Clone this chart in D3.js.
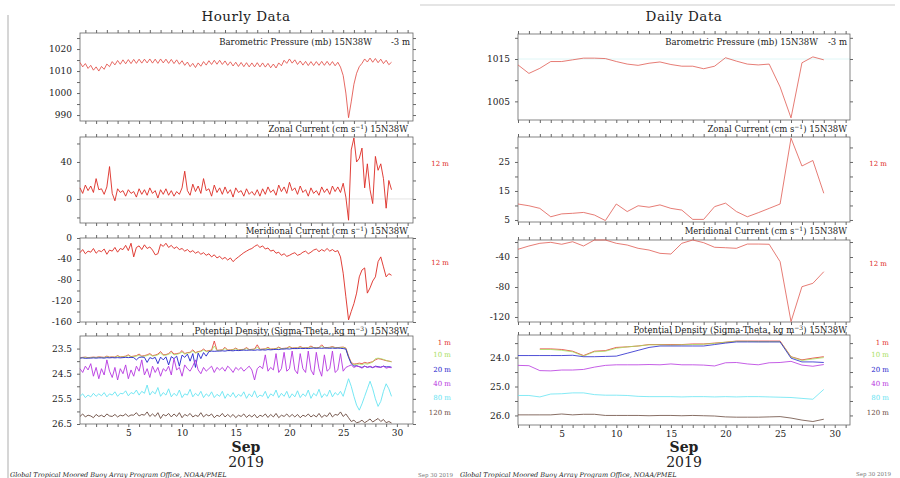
<!DOCTYPE html>
<html>
<head>
<meta charset="utf-8">
<script src="https://cdn.jsdelivr.net/npm/d3@7"></script>
<style>
body{margin:0;background:#fff;}
text{font-family:"DejaVu Serif",serif;fill:#222;}
.tick text{font-family:"DejaVu Serif",serif;font-size:9px;fill:#222;}
.tick line{stroke:#666;}
</style>
</head>
<body>
<script>
// hourly series, one value every 6 hours starting Sep 1 00:00
var hourStart = 1, hourStep = 0.25;

var hrPressure = [
 1013.9,1011.9,1013.4,1011.2, 1012.6,1010.4,1011.9,1010.0, 1012.1,1010.8,1013.2,1012.0,
 1014.3,1012.8,1014.8,1013.1, 1015.1,1013.3,1015.2,1013.4, 1015.3,1013.5,1015.4,1013.6,
 1015.4,1013.7,1015.5,1013.6, 1015.4,1013.5,1015.5,1013.7, 1015.4,1013.5,1015.3,1013.4,
 1015.1,1013.1,1014.7,1012.6, 1014.1,1012.0,1013.5,1011.6, 1013.7,1012.2,1014.3,1012.7,
 1014.7,1013.0,1014.9,1013.1, 1014.9,1013.0,1014.6,1012.6, 1014.2,1012.3,1014.0,1012.1,
 1013.9,1012.0,1013.8,1011.9, 1013.7,1011.9,1013.8,1011.9, 1013.7,1011.8,1013.5,1011.5,
 1013.2,1011.4,1013.7,1012.4, 1014.9,1013.5,1015.5,1013.6, 1015.1,1013.0,1014.6,1012.7,
 1014.4,1012.5,1014.3,1012.5, 1014.3,1012.6,1014.4,1012.6, 1014.4,1012.6,1014.3,1012.4,
 1014.0,1011.8,1008.0,1000.0, 988.8,996.0,1004.0,1009.0, 1012.0,1013.5,1015.5,1014.1,
 1015.9,1014.0,1015.7,1013.8, 1015.4,1013.4,1014.9,1012.9, 1014.0
];

var hrZonal = [
 12,6,15,9, 14,7,22,10, 11,5,13,35, 6,-2,11,7, 9,3,10,6, 8,2,11,5,
 10,4,12,6, 9,1,10,5, 11,4,9,3, 8,5,12,30, 9,4,16,8, 14,6,22,9,
 11,3,15,7, 12,5,13,6, 10,2,12,7, 9,3,11,5, 8,4,10,3, 11,5,13,7,
 10,4,15,8, 13,6,18,9, 12,5,14,7, 10,3,12,6, 9,4,13,7, 11,5,14,8,
 13,7,17,2, -23,53,66,40, 44,55,12,38, 10,-5,46,31, 38,22,-10,20, 10
];

var hrMerid = [
 -28,-22,-30,-25, -27,-20,-29,-24, -26,-21,-31,-23, -25,-18,-27,-20,
 -22,-14,-24,-10, -36,-18,-15,-22, -13,-20,-17,-23, -32,-30,-12,-16,
 -10,-18,-14,-20, -17,-22,-20,-25, -22,-27,-24,-29, -26,-31,-28,-33,
 -30,-36,-32,-38, -35,-40,-37,-42, -38,-45,-40,-36, -32,-28,-25,-22,
 -20,-16,-13,-18, -15,-21,-19,-25, -23,-29,-27,-33, -30,-35,-33,-30,
 -28,-33,-31,-27, -25,-30,-27,-23, -21,-26,-22,-25, -20,-25,-22,-26,
 -24,-36,-67,-112, -156,-140,-125,-105, -74,-61,-57,-105, -95,-82,-74,-45,
 -36,-55,-74,-68, -71
];

var hrDens1 = [
 23.86,23.85,23.84,23.86, 23.85,23.84,23.85,23.83, 23.84,23.85,23.80,23.84, 23.83,23.84,23.78,23.83,
 23.82,23.80,23.75,23.82, 23.80,23.78,23.72,23.80, 23.78,23.75,23.70,23.78, 23.76,23.72,23.62,23.75,
 23.74,23.70,23.60,23.72, 23.70,23.68,23.58,23.70, 23.66,23.65,23.55,23.66, 23.62,23.60,23.52,23.60,
 23.58,23.56,23.20,23.57, 23.56,23.55,23.45,23.56, 23.55,23.54,23.48,23.55, 23.54,23.53,23.46,23.54,
 23.53,23.52,23.35,23.53, 23.52,23.51,23.45,23.52, 23.51,23.50,23.44,23.50, 23.49,23.48,23.42,23.48,
 23.47,23.47,23.42,23.47, 23.47,23.46,23.40,23.46, 23.46,23.46,23.35,23.46, 23.46,23.45,23.42,23.46,
 23.46,23.45,23.44,23.48, 23.80,24.05,24.12,24.10, 24.08,24.10,24.05,24.08, 24.05,24.02,23.95,23.90,
 23.92,23.95,23.98,24.00, 24.02
];

var hrDens10 = [
 23.87,23.86,23.85,23.87, 23.86,23.85,23.86,23.84, 23.85,23.86,23.82,23.85, 23.84,23.85,23.80,23.84,
 23.83,23.82,23.78,23.83, 23.82,23.80,23.76,23.82, 23.80,23.78,23.74,23.80, 23.78,23.75,23.68,23.77,
 23.76,23.73,23.66,23.75, 23.73,23.70,23.64,23.72, 23.68,23.67,23.60,23.68, 23.64,23.62,23.56,23.62,
 23.60,23.58,23.40,23.58, 23.57,23.56,23.50,23.57, 23.56,23.55,23.51,23.56, 23.55,23.54,23.50,23.55,
 23.54,23.53,23.45,23.54, 23.53,23.52,23.48,23.53, 23.52,23.51,23.47,23.51, 23.50,23.49,23.45,23.49,
 23.48,23.48,23.45,23.48, 23.48,23.47,23.44,23.47, 23.47,23.47,23.42,23.47, 23.47,23.46,23.44,23.47,
 23.47,23.46,23.46,23.49, 23.82,24.08,24.15,24.12, 24.12,24.14,24.10,24.12, 24.08,24.04,23.90,23.88,
 23.90,23.93,23.97,24.00, 24.03
];

var hrDens20 = [
 23.88,23.87,23.89,23.88, 23.88,23.87,23.88,23.87, 23.87,23.88,23.86,23.87, 23.86,23.87,23.86,23.87,
 23.86,23.85,23.86,23.85, 23.86,23.95,23.85,23.84, 23.85,24.05,23.86,23.90, 23.85,24.10,23.84,23.95,
 23.83,24.15,23.82,23.90, 23.80,24.20,23.76,23.85, 23.72,24.00,23.70,24.25, 23.68,23.90,23.66,23.80,
 23.62,23.60,23.61,23.60, 23.60,23.59,23.60,23.58, 23.58,23.59,23.57,23.58, 23.57,23.56,23.57,23.56,
 23.56,23.57,23.55,23.56, 23.55,23.56,23.54,23.55, 23.54,23.53,23.54,23.52, 23.52,23.51,23.52,23.50,
 23.50,23.50,23.49,23.50, 23.49,23.50,23.49,23.48, 23.49,23.48,23.49,23.48, 23.48,23.49,23.48,23.49,
 23.48,23.49,23.50,23.52, 23.85,24.10,24.20,24.18, 24.22,24.25,24.20,24.24, 24.22,24.26,24.20,24.22,
 24.24,24.20,24.23,24.22, 24.24
];

var hrDens40 = [
 24.30,24.45,24.20,24.35, 24.10,24.60,24.25,24.70, 24.30,24.55,23.95,24.40, 24.65,24.25,24.75,24.30,
 24.50,24.15,24.70,24.35, 24.60,24.20,24.40,23.95, 24.55,24.30,24.65,24.20, 24.45,24.25,24.60,24.30,
 24.40,24.20,24.55,23.90, 24.35,24.25,24.60,24.15, 24.30,24.40,24.20,23.95, 24.35,24.50,24.25,24.40,
 24.30,24.20,24.45,24.25, 24.35,24.25,24.40,24.20, 24.30,24.45,24.25,24.35, 24.25,24.40,24.30,24.20,
 24.35,24.75,24.30,24.20, 24.30,23.75,24.40,24.25, 24.35,23.70,24.45,24.30, 23.65,24.40,24.30,23.60,
 24.35,24.50,23.70,24.30, 24.45,23.60,24.35,24.55, 23.65,24.30,24.60,23.75, 24.40,24.30,23.60,24.45,
 24.35,23.70,24.40,24.25, 24.20,24.15,24.25,24.20, 24.22,24.28,24.20,24.25, 24.20,24.25,24.22,24.24,
 24.25,24.20,24.28,24.25, 24.26
];

var hrDens80 = [
 25.40,25.30,25.45,25.35, 25.42,25.28,25.40,25.30, 25.38,25.25,25.42,25.30, 25.35,25.22,25.40,25.28,
 25.30,25.18,25.38,25.25, 25.30,25.15,25.35,25.20, 25.28,24.95,25.35,25.20, 25.30,25.05,25.40,25.25,
 25.35,25.10,25.42,25.28, 25.38,25.15,25.45,25.30, 25.35,25.12,25.42,25.28, 25.38,25.20,25.45,25.30,
 25.40,25.22,25.45,25.32, 25.40,25.20,25.48,25.30, 25.42,25.25,25.45,25.32, 25.40,25.22,25.48,25.30,
 25.42,25.18,25.45,25.35, 25.40,25.20,25.48,25.30, 25.38,25.15,25.45,25.28, 25.40,25.20,25.47,25.30,
 25.42,25.18,25.45,25.30, 25.40,25.15,25.48,25.28, 25.38,25.12,25.45,25.30, 25.40,25.15,25.42,25.25,
 25.35,25.20,25.40,25.05, 24.70,25.00,25.40,25.75, 25.95,25.70,25.40,25.10, 24.80,25.10,25.50,25.80,
 25.60,25.20,24.90,25.10, 25.40
];

var hrDens120 = [
 26.20,26.10,26.22,26.15, 26.18,26.25,26.12,26.20, 26.15,26.22,26.10,26.18, 26.20,26.12,26.22,26.15,
 26.18,26.10,26.20,26.14, 26.15,26.05,26.18,26.12, 26.15,26.02,26.20,26.10, 26.20,26.05,26.28,26.12,
 26.18,26.08,26.22,26.10, 26.20,26.05,26.25,26.12, 26.18,26.08,26.22,26.15, 26.20,26.05,26.22,26.12,
 26.18,26.10,26.25,26.15, 26.20,26.08,26.22,26.12, 26.22,26.12,26.25,26.15, 26.20,26.10,26.24,26.14,
 26.22,26.12,26.26,26.15, 26.20,26.10,26.24,26.12, 26.22,26.08,26.25,26.15, 26.20,26.10,26.22,26.12,
 26.22,26.12,26.25,26.15, 26.20,26.10,26.22,26.14, 26.22,26.08,26.24,26.15, 26.20,26.05,26.22,26.12,
 26.15,26.02,26.20,26.10, 26.25,26.40,26.35,26.45, 26.42,26.35,26.45,26.38, 26.30,26.42,26.35,26.28,
 26.40,26.32,26.45,26.40, 26.46
];

// daily means, Sep 1 .. Sep 29
var days = [1,2,3,4,5,6,7,8,9,10,11,12,13,14,15,16,17,18,19,20,21,22,23,24,25,26,27,28,29];
var dyPressure = [1013.6,1011.6,1012.8,1014.4,1014.4,1014.8,1015.2,1015.2,1015.1,1014.4,1013.8,1013.5,1014.0,1014.3,1013.7,
                  1013.3,1013.3,1012.7,1013.3,1015.3,1014.5,1013.8,1013.6,1013.8,1008.4,1001.1,1014.1,1015.5,1014.8];
var dyZonal = [10.5,9.9,9.0,6.1,7.1,7.3,7.6,6.7,4.8,10.5,7.9,9.9,9.4,10.2,9.0,8.4,5.2,5.2,9.6,10.8,7.9,6.1,7.5,9.0,10.5,
               33.2,23.6,25.5,14.2];
var dyMerid = [-29.7,-25.3,-21.7,-20.4,-23.0,-19.6,-25.3,-17.3,-17.3,-21.7,-24.0,-28.4,-30.7,-35.1,-36.0,-21.7,-17.3,
               -20.9,-27.0,-27.6,-28.4,-22.7,-22.7,-23.0,-46.2,-126.2,-79.6,-75.1,-59.6];
var dyDens1 = [null,null,23.70,23.70,23.72,23.78,23.93,23.78,23.76,23.65,23.63,23.60,23.55,23.55,23.55,23.55,23.53,23.53,
               23.50,23.47,23.43,23.43,23.43,23.43,23.43,23.97,24.08,24.02,23.97];
var dyDens10 = [null,null,23.72,23.72,23.75,23.80,23.95,23.80,23.78,23.68,23.63,23.60,23.56,23.56,23.57,23.56,23.55,23.54,
                23.51,23.47,23.44,23.44,23.45,23.45,23.45,23.98,24.10,24.05,24.00];
var dyDens20 = [23.93,23.93,23.93,23.93,23.93,23.92,23.97,23.97,23.96,23.95,23.85,23.75,23.65,23.60,23.60,23.60,23.60,23.60,
                23.55,23.50,23.46,23.46,23.46,23.46,23.46,24.02,24.15,24.15,24.17];
var dyDens40 = [24.27,24.28,24.45,24.46,24.43,24.43,24.41,24.33,24.27,24.25,24.25,24.25,24.24,24.25,24.22,24.25,24.25,24.26,
                24.29,24.18,24.17,24.22,24.25,24.18,24.17,24.13,24.26,24.30,24.24];
var dyDens80 = [25.31,25.31,25.36,25.26,25.25,25.22,25.22,25.28,25.30,25.30,25.31,25.34,25.35,25.35,25.35,25.36,25.35,25.35,
                25.36,25.35,25.36,25.35,25.35,25.36,25.37,25.38,25.41,25.44,25.10];
var dyDens120 = [25.98,25.98,25.98,25.98,25.95,25.98,25.96,25.96,26.00,26.00,26.00,26.00,26.01,26.00,26.00,26.01,26.00,26.01,
                 26.02,26.05,26.06,26.06,26.06,26.05,26.04,26.09,26.16,26.21,26.13];

var depthNames = ["1 m", "10 m", "20 m", "40 m", "80 m", "120 m"];
var depthColors = ["#e3302a", "#a8e060", "#2222cc", "#b636e0", "#66e4f2", "#6a4a3e"];

var svg = d3.select("body").append("svg")
    .attr("width", 900)
    .attr("height", 478);

svg.append("rect").attr("width", 900).attr("height", 478).attr("fill", "#fff");
svg.append("line").attr("x1", 8).attr("x2", 8).attr("y1", 15).attr("y2", 478)
    .attr("stroke", "#bbb").attr("stroke-width", 1.2);
svg.append("line").attr("x1", 420).attr("x2", 895).attr("y1", 5).attr("y2", 5)
    .attr("stroke", "#ccc").attr("stroke-width", 1.2);

var xHour = d3.scaleLinear().domain([1, 32]).range([80, 413]);
var xDay = d3.scaleLinear().domain([1, 31.4]).range([518, 850]);

var hourTicks = d3.range(1.5, 32, 1);
var dayTicks = d3.range(1, 32, 1);

function drawPanel(p){
    var x = p.x;
    var x0 = x.range()[0], x1 = x.range()[1];
    var y = d3.scaleLinear().domain(p.domain).range([p.bottom, p.top]);
    var g = svg.append("g");

    if (p.refLine != null) {
        g.append("line")
         .attr("x1", x0).attr("x2", x1)
         .attr("y1", y(p.refLine)).attr("y2", y(p.refLine))
         .attr("stroke", p.refColor).attr("stroke-width", 0.8);
    }

    var left = g.append("g").attr("transform", "translate(" + x0 + ",0)")
        .call(d3.axisLeft(y).tickValues(p.ticks).tickSize(3).tickPadding(5)
            .tickFormat(function(d){ return p.labels.indexOf(d) >= 0 ? p.fmt(d) : ""; }));
    left.select(".domain").remove();
    var right = g.append("g").attr("transform", "translate(" + x1 + ",0)")
        .call(d3.axisRight(y).tickValues(p.ticks).tickSize(3).tickFormat(""));
    right.select(".domain").remove();

    var top = g.append("g").attr("transform", "translate(0," + p.top + ")")
        .call(d3.axisTop(x).tickValues(p.xTicks).tickSize(3).tickFormat(""));
    top.select(".domain").remove();
    var bottom = g.append("g").attr("transform", "translate(0," + p.bottom + ")")
        .call(d3.axisBottom(x).tickValues(p.xTicks).tickSize(3).tickPadding(3)
            .tickFormat(p.xLabels ? p.xLabels : ""));
    bottom.select(".domain").remove();

    g.append("rect")
     .attr("x", x0).attr("y", p.top)
     .attr("width", x1 - x0).attr("height", p.bottom - p.top)
     .attr("fill", "none").attr("stroke", "#666").attr("stroke-width", 0.8);

    var title = g.append("text")
        .attr("x", p.titleX).attr("y", p.titleY)
        .attr("text-anchor", "end")
        .style("font-size", "8.5px");
    title.append("tspan").text(p.title[0]);
    if (p.title.length > 1) {
        title.append("tspan").attr("baseline-shift", "super").style("font-size", "6px").text(p.title[1]);
        title.append("tspan").text(p.title[2]);
    }

    p.series.forEach(function(s){
        var line = d3.line()
            .defined(function(d){ return d[1] != null; })
            .x(function(d){ return x(d[0]); })
            .y(function(d){ return y(d[1]); });
        g.append("path")
         .datum(s.values.map(function(v, i){ return [s.t(i), v]; }))
         .attr("d", line)
         .attr("fill", "none")
         .attr("stroke", s.color)
         .attr("stroke-width", s.width)
         .attr("stroke-linejoin", "round");
    });
    return y;
}

function hourT(i){ return hourStart + i * hourStep; }
function dayT(i){ return days[i]; }
function plain(d){ return String(d); }
var oneDec = d3.format(".1f");
function hourLabel(d){ var n = d - 0.5; return n % 5 === 0 ? n : ""; }
function dayLabel(d){ return d % 5 === 0 ? d : ""; }

var red = "#dd2a22";

// ---------- hourly ----------
drawPanel({x: xHour, top: 33, bottom: 121, domain: [987.3, 1027.3],
    ticks: [990,995,1000,1005,1010,1015,1020,1025], labels: [990,1000,1010,1020], fmt: plain,
    xTicks: hourTicks, title: ["Barometric Pressure (mb) 15N38W"], titleX: 372, titleY: 45,
    series: [{values: hrPressure, t: hourT, color: "#e0443c", width: 0.8}]});
svg.append("text").attr("x", 410).attr("y", 45).attr("text-anchor", "end").style("font-size", "8.5px").text("-3 m");

drawPanel({x: xHour, top: 137, bottom: 223, domain: [-26, 67],
    ticks: [-20,0,20,40,60], labels: [0,40], fmt: plain, refLine: 0, refColor: "#ddd",
    xTicks: hourTicks, title: ["Zonal Current (cm s", "\u22121", ") 15N38W"], titleX: 408, titleY: 132,
    series: [{values: hrZonal, t: hourT, color: red, width: 0.9}]});

drawPanel({x: xHour, top: 238, bottom: 322, domain: [-160, 0],
    ticks: [-160,-140,-120,-100,-80,-60,-40,-20,0], labels: [-160,-120,-80,-40,0], fmt: plain,
    xTicks: hourTicks, title: ["Meridional Current (cm s", "\u22121", ") 15N38W"], titleX: 408, titleY: 234,
    series: [{values: hrMerid, t: hourT, color: red, width: 0.9}]});

drawPanel({x: xHour, top: 336, bottom: 424, domain: [26.5, 23.0],
    ticks: [23.5,24,24.5,25,25.5,26,26.5], labels: [23.5,24.5,25.5,26.5], fmt: oneDec,
    xTicks: hourTicks, xLabels: hourLabel,
    title: ["Potential Density (Sigma-Theta, kg m", "\u22123", ") 15N38W"], titleX: 408, titleY: 334,
    series: [
        {values: hrDens1, t: hourT, color: depthColors[0], width: 0.8},
        {values: hrDens10, t: hourT, color: depthColors[1], width: 0.8},
        {values: hrDens20, t: hourT, color: depthColors[2], width: 0.9},
        {values: hrDens40, t: hourT, color: depthColors[3], width: 0.9},
        {values: hrDens80, t: hourT, color: depthColors[4], width: 0.9},
        {values: hrDens120, t: hourT, color: depthColors[5], width: 0.9}
    ]});

// ---------- daily ----------
drawPanel({x: xDay, top: 34, bottom: 120, domain: [1000.6, 1020.9],
    ticks: [1005,1010,1015,1020], labels: [1005,1015], fmt: plain, refLine: 1015, refColor: "#d8f4f4",
    xTicks: dayTicks, title: ["Barometric Pressure (mb) 15N38W"], titleX: 818, titleY: 45,
    series: [{values: dyPressure, t: dayT, color: "#e05a52", width: 0.8}]});
svg.append("text").attr("x", 847).attr("y", 45).attr("text-anchor", "end").style("font-size", "8.5px").text("-3 m");

drawPanel({x: xDay, top: 137, bottom: 222, domain: [4.3, 33.6],
    ticks: [5,10,15,20,25,30], labels: [5,15,25], fmt: plain,
    xTicks: dayTicks, title: ["Zonal Current (cm s", "\u22121", ") 15N38W"], titleX: 847, titleY: 132,
    series: [{values: dyZonal, t: dayT, color: "#e05a52", width: 0.8}]});

drawPanel({x: xDay, top: 240, bottom: 322, domain: [-126.7, -17.3],
    ticks: [-120,-100,-80,-60,-40,-20], labels: [-120,-80,-40], fmt: plain,
    xTicks: dayTicks, title: ["Meridional Current (cm s", "\u22121", ") 15N38W"], titleX: 847, titleY: 234,
    series: [{values: dyMerid, t: dayT, color: "#e05a52", width: 0.8}]});

drawPanel({x: xDay, top: 335, bottom: 425, domain: [26.33, 23.22],
    ticks: [23.5,24,24.5,25,25.5,26], labels: [24,25,26], fmt: oneDec,
    xTicks: dayTicks, xLabels: dayLabel,
    title: ["Potential Density (Sigma-Theta, kg m", "\u22123", ") 15N38W"], titleX: 847, titleY: 333,
    series: [
        {values: dyDens1, t: dayT, color: depthColors[0], width: 0.8},
        {values: dyDens10, t: dayT, color: depthColors[1], width: 0.8},
        {values: dyDens20, t: dayT, color: depthColors[2], width: 0.8},
        {values: dyDens40, t: dayT, color: depthColors[3], width: 0.8},
        {values: dyDens80, t: dayT, color: depthColors[4], width: 0.8},
        {values: dyDens120, t: dayT, color: depthColors[5], width: 0.8}
    ]});

// depth labels at the right of each plot
var legendY = [345, 357, 372, 386, 400, 415];
[451, 889].forEach(function(lx){
    svg.selectAll(null).data(depthNames).enter().append("text")
        .attr("x", lx).attr("y", function(d, i){ return legendY[i]; })
        .attr("text-anchor", "end")
        .style("font-size", "7px")
        .style("fill", function(d, i){ return depthColors[i]; })
        .text(function(d){ return d; });
});
[[449, 166], [449, 265], [887, 166], [887, 266]].forEach(function(p){
    svg.append("text").attr("x", p[0]).attr("y", p[1]).attr("text-anchor", "end")
        .style("font-size", "7px").style("fill", red).text("12 m");
});

// titles and date labels
[[246, "Hourly Data"], [684, "Daily Data"]].forEach(function(t){
    svg.append("text").attr("x", t[0]).attr("y", 21).attr("text-anchor", "middle")
        .style("font-size", "13.5px").style("letter-spacing", "0.5px").text(t[1]);
    svg.append("text").attr("x", t[0]).attr("y", 452).attr("text-anchor", "middle")
        .style("font-size", "14px").style("font-weight", "bold").text("Sep");
    svg.append("text").attr("x", t[0]).attr("y", 467).attr("text-anchor", "middle")
        .style("font-size", "14px").text("2019");
});

[[10, 477], [460, 477]].forEach(function(p){
    svg.append("text").attr("x", p[0]).attr("y", p[1])
        .style("font-size", "6.5px").style("font-style", "italic")
        .text("Global Tropical Moored Buoy Array Program Office, NOAA/PMEL");
});
[[418, 477], [856, 476]].forEach(function(p){
    svg.append("text").attr("x", p[0]).attr("y", p[1])
        .style("font-size", "5.5px").style("fill", "#777")
        .text("Sep 30 2019");
});
</script>
</body>
</html>
